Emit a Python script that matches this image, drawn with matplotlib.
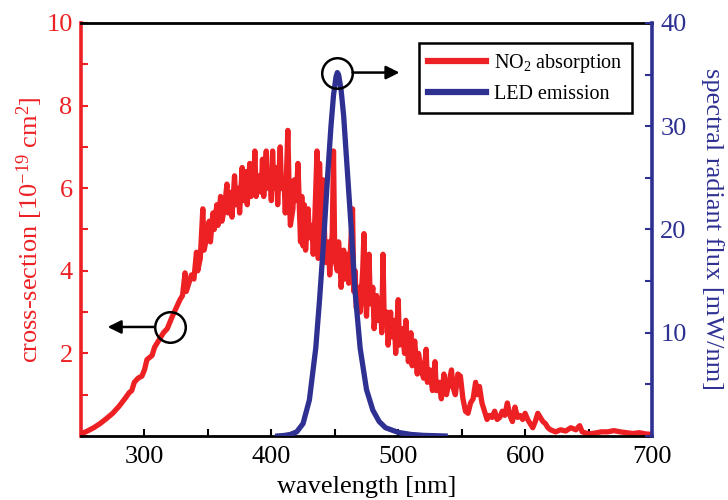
import matplotlib
matplotlib.use("Agg")
import matplotlib.pyplot as plt
from matplotlib.lines import Line2D

plt.rcParams["font.family"] = ["Liberation Serif", "DejaVu Serif"]
plt.rcParams["mathtext.fontset"] = "custom"
plt.rcParams["mathtext.rm"] = "Liberation Serif"
plt.rcParams["mathtext.it"] = "Liberation Serif:italic"

RED = "#ED2024"
BLUE = "#2E3192"

# NO2 absorption cross-section [1e-19 cm^2]
no2_wl = [250, 255, 260, 265, 270, 275, 280, 285, 288, 290, 292, 295, 298, 300,
          302, 304, 306, 308, 310, 312, 315, 318, 320, 322, 325, 328, 330, 332,
          333, 335, 337, 339, 341, 342, 344, 346, 347, 349, 351, 352, 354, 355,
          357, 358, 360, 361, 363, 365, 366, 368, 369, 371, 372, 374, 375, 377,
          378, 380, 381, 383, 384, 386, 387, 388, 390, 392, 393, 394, 396, 397,
          399, 400, 401, 402, 404, 405, 407, 408, 410, 411, 413, 414, 415, 417,
          418, 419, 420, 421, 422, 423, 424, 425, 426, 427, 429, 430, 432, 433,
          434, 436, 437, 438, 439, 440, 441, 442, 443, 445, 446, 448, 449, 450,
          452, 453, 454, 455, 457, 458, 460, 461, 463, 464, 465, 466, 467, 469,
          470, 472, 473, 474, 475, 477, 478, 480, 481, 483, 484, 486, 487, 488,
          489, 491, 492, 494, 495, 497, 498, 500, 501, 503, 505, 506, 508, 510,
          511, 513, 515, 516, 518, 520, 522, 523, 525, 527, 529, 530, 532, 534,
          536, 538, 540, 542, 543, 545, 547, 549, 551, 553, 555, 557, 559, 561,
          562, 564, 566, 568, 570, 572, 574, 576, 578, 580, 582, 584, 586, 588,
          590, 592, 594, 596, 598, 600, 602, 604, 606, 608, 610, 612, 614, 616,
          618, 620, 624, 628, 632, 636, 640, 643, 645, 650, 655, 660, 665, 670,
          675, 680, 685, 690, 695, 700]
no2_xs = [0.05, 0.12, 0.2, 0.3, 0.42, 0.55, 0.72, 0.92, 1.05, 1.1, 1.3, 1.4, 1.45, 1.6,
          1.85, 1.9, 1.95, 2.15, 2.25, 2.35, 2.5, 2.6, 2.75, 2.9, 3.1, 3.3, 3.4, 3.95,
          3.5, 3.7, 3.9, 3.8, 4.45, 4.0, 4.3, 5.5, 4.5, 4.8, 5.2, 4.7, 5.4, 5.0,
          5.6, 5.1, 5.8, 5.2, 5.5, 6.1, 5.4, 5.9, 5.3, 6.3, 5.6, 6.0, 5.4, 6.5,
          5.7, 6.4, 5.6, 6.6, 5.8, 6.0, 6.9, 5.8, 6.3, 5.9, 6.7, 5.8, 6.9, 6.0,
          6.3, 5.7, 6.9, 6.0, 6.5, 5.6, 7.0, 6.0, 6.2, 5.4, 7.4, 6.0, 5.1, 5.5,
          6.2, 5.7, 6.0, 6.6, 5.6, 4.7, 5.8, 4.6, 5.6, 4.5, 5.5, 4.8, 5.1, 4.4,
          5.0, 6.9, 4.3, 6.6, 5.3, 4.6, 6.2, 4.8, 4.2, 4.7, 3.9, 4.9, 6.9, 4.3,
          4.0, 4.7, 4.3, 3.6, 4.5, 3.8, 4.4, 3.7, 4.9, 5.5, 3.5, 4.0, 3.1, 3.6,
          3.0, 4.0, 4.9, 3.5, 2.9, 4.4, 3.2, 3.6, 2.6, 3.4, 2.8, 3.3, 2.5, 4.4,
          2.7, 3.0, 2.2, 3.0, 2.4, 2.8, 2.0, 3.3, 2.2, 2.6, 2.0, 2.8, 1.8, 2.5,
          1.7, 2.3, 1.5, 2.0, 1.6, 1.4, 2.1, 1.3, 1.6, 1.1, 1.8, 1.1, 1.3, 0.9,
          1.5, 1.0, 1.3, 1.6, 1.2, 1.0, 1.5, 1.45, 0.9, 0.6, 0.55, 0.8, 0.9, 1.3,
          1.0, 1.2, 0.8, 0.6, 0.4, 0.5, 0.45, 0.6, 0.4, 0.45, 0.6, 0.5, 0.8, 0.5,
          0.35, 0.7, 0.45, 0.5, 0.4, 0.55, 0.4, 0.3, 0.2, 0.35, 0.55, 0.45, 0.35, 0.3,
          0.2, 0.15, 0.1, 0.15, 0.12, 0.2, 0.15, 0.25, 0.1, 0.05, 0.07, 0.1, 0.1, 0.13,
          0.1, 0.08, 0.06, 0.08, 0.05, 0.04]

# LED spectral radiant flux [mW/nm]
led_wl = [405, 410, 415, 420, 425, 430, 435, 438, 441, 444, 447, 449, 451, 452,
          453, 455, 457, 460, 463, 466, 470, 475, 480, 485, 490, 500, 510, 520, 537]
led_flux = [0.0, 0.05, 0.15, 0.4, 1.2, 3.5, 8.5, 13.2, 18.5, 24.5, 30.0, 33.0, 34.8, 35.2,
            35.0, 33.5, 31.0, 25.5, 20.0, 14.0, 8.5, 4.5, 2.5, 1.4, 0.8, 0.35, 0.15, 0.06, 0.0]

fig = plt.figure(figsize=(7.28, 5.0), dpi=100)
ax = fig.add_axes([81 / 728, 1 - 436 / 500, 571 / 728, 413 / 500])
ax2 = ax.twinx()

ax.plot(no2_wl, no2_xs, color=RED, lw=3.8, solid_joinstyle="round")
ax2.plot(led_wl, led_flux, color=BLUE, lw=3.8, solid_joinstyle="round")

ax.set_xlim(250, 700)
ax.set_ylim(0, 10)
ax2.set_ylim(0, 40)

FS = 19
ax.set_xticks(range(250, 701, 50))
ax.set_xticklabels(["" if v % 100 else str(v) for v in range(250, 701, 50)])
ax.set_yticks(range(0, 11))
ax.set_yticklabels(["" if (v % 2 or v == 0) else str(v) for v in range(0, 11)])
ax2.set_yticks(range(0, 41, 5))
ax2.set_yticklabels(["" if (v % 10 or v == 0) else str(v) for v in range(0, 41, 5)])

ax.tick_params(axis="x", direction="in", length=5, width=1.5, colors="k",
               labelsize=FS, pad=7, top=False)
ax.tick_params(axis="y", direction="in", length=5, width=1.5, colors=RED,
               labelsize=FS, pad=6)
ax2.tick_params(axis="y", direction="in", length=5, width=1.5, colors=BLUE,
                labelsize=FS, pad=6)

for s in ("top", "bottom"):
    ax.spines[s].set_color("k")
    ax.spines[s].set_linewidth(2.0)
ax.spines["left"].set_color(RED)
ax.spines["left"].set_linewidth(2.6)
ax.spines["right"].set_visible(False)
for s in ("top", "bottom", "left"):
    ax2.spines[s].set_visible(False)
ax2.spines["right"].set_color(BLUE)
ax2.spines["right"].set_linewidth(2.6)

ax.set_xlabel("wavelength [nm]", fontsize=FS, color="k", labelpad=6)
ax.set_ylabel("cross-section [10$^{-19}$ cm$^{2}$]", fontsize=FS, color=RED, labelpad=1)
ax2.set_ylabel("spectral radiant flux [mW/nm]", fontsize=FS, color=BLUE,
               rotation=270, va="bottom", labelpad=10)

# circled curves with arrows pointing at their axes
ax.plot([320], [2.64], "o", ms=22, mfc="none", mec="k", mew=1.8)
ax.annotate("", xy=(271, 2.64), xytext=(308, 2.64),
            arrowprops=dict(arrowstyle="-|>", color="k", lw=1.8,
                            mutation_scale=20, shrinkA=0, shrinkB=0))
ax2.plot([452], [35.2], "o", ms=22, mfc="none", mec="k", mew=1.8)
ax2.annotate("", xy=(501, 35.2), xytext=(464, 35.2),
             arrowprops=dict(arrowstyle="-|>", color="k", lw=1.8,
                             mutation_scale=20, shrinkA=0, shrinkB=0))

handles = [Line2D([], [], color=RED, lw=4.5), Line2D([], [], color=BLUE, lw=4.5)]
leg = ax2.legend(handles, ["NO$_2$ absorption", "LED emission"],
                 loc="upper right", bbox_to_anchor=(0.965, 0.952),
                 fontsize=14.5, frameon=True, fancybox=False, framealpha=1,
                 edgecolor="k", handlelength=2.9, handletextpad=0.4,
                 borderpad=0.45, labelspacing=0.5, borderaxespad=0)
leg.get_frame().set_linewidth(1.8)

fig.savefig("out.png", dpi=100)
